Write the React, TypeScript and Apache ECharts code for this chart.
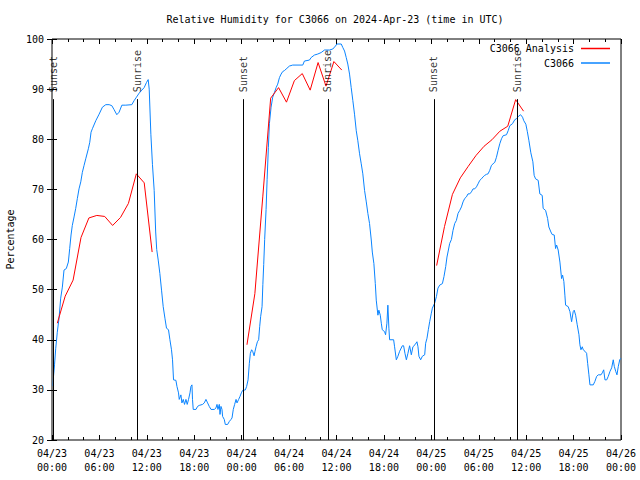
import React, { useEffect, useRef } from "react";
import * as echarts from "echarts";

// Station observations: [hours since 2024-04-23 00:00 UTC, RH %]
const stationC3066: [number, number][] = [
  [0.13,30.8],[0.19,32.7],[0.32,35.0],[0.47,38.2],[0.67,41.5],[0.89,44.3],[1.10,48.3],[1.31,50.5],[1.52,53.9],[1.81,54.2],
  [2.07,55.5],[2.24,58.2],[2.41,60.9],[2.57,62.8],[2.79,64.5],[3.00,66.2],[3.21,68.2],[3.42,70.1],[3.64,71.5],[3.84,73.4],
  [4.06,74.8],[4.27,76.1],[4.60,78.1],[4.78,79.4],[4.94,81.4],[5.11,82.1],[5.54,83.7],[5.96,85.0],[6.38,86.4],[6.81,86.9],
  [7.23,86.9],[7.57,86.7],[7.86,85.9],[8.20,84.9],[8.49,85.4],[8.84,86.8],[9.34,86.8],[10.10,86.9],[10.39,87.7],[10.69,88.4],
  [11.03,89.2],[11.37,89.8],[11.66,90.3],[11.95,91.3],[12.17,91.9],[12.30,90.0],[12.51,81.0],[12.71,75.0],[12.93,69.8],[13.12,61.5],
  [13.25,58.0],[13.44,55.9],[13.65,53.2],[13.86,49.9],[14.07,46.6],[14.29,44.3],[14.49,42.3],[14.74,42.0],[14.92,40.0],[15.12,38.0],
  [15.25,36.0],[15.38,32.0],[15.68,31.9],[15.81,30.7],[16.01,29.4],[16.10,28.1],[16.31,29.0],[16.44,27.4],[16.61,28.1],[16.77,27.1],
  [16.95,28.1],[17.11,27.1],[17.28,28.1],[17.46,29.4],[17.58,30.7],[17.71,31.0],[17.78,28.1],[17.87,26.1],[18.22,26.1],[18.42,26.7],
  [18.63,26.9],[19.05,27.1],[19.27,27.4],[19.48,28.1],[19.69,27.4],[19.90,26.7],[20.12,26.1],[20.54,26.1],[20.75,26.4],[20.88,27.1],
  [21.00,26.1],[21.17,27.1],[21.26,25.1],[21.38,26.7],[21.51,26.1],[21.59,24.7],[21.80,24.1],[21.93,23.1],[22.22,23.1],[22.44,23.7],
  [22.65,24.1],[22.78,24.4],[22.94,26.1],[23.11,27.1],[23.29,28.1],[23.41,27.4],[23.62,28.1],[23.79,28.7],[23.96,29.4],[24.12,29.9],
  [24.47,30.0],[24.63,30.7],[24.81,32.0],[24.97,35.3],[25.10,37.3],[25.26,38.0],[25.39,37.7],[25.57,36.8],[25.69,37.7],[25.82,38.6],
  [25.99,39.6],[26.15,40.0],[26.28,42.6],[26.40,44.6],[26.58,46.6],[26.68,51.0],[26.79,55.0],[26.91,60.0],[27.09,66.0],[27.22,72.0],
  [27.38,78.4],[27.51,83.1],[27.72,86.4],[27.93,88.4],[28.14,89.3],[28.36,90.3],[28.56,91.0],[28.78,92.3],[28.99,93.0],[29.19,93.5],
  [29.41,93.7],[29.62,94.0],[30.04,94.6],[30.46,94.8],[31.73,94.8],[31.94,95.6],[32.58,95.8],[32.79,96.3],[33.21,96.8],[33.63,97.0],
  [34.06,97.3],[34.48,97.8],[35.11,97.8],[35.53,98.0],[35.87,98.6],[36.04,99.0],[36.60,99.0],[36.80,98.3],[37.02,97.6],[37.23,96.3],
  [37.43,95.0],[37.65,93.0],[37.86,90.3],[38.07,87.7],[38.28,85.0],[38.50,81.7],[38.70,79.7],[38.92,77.1],[39.13,75.1],[39.33,73.1],
  [39.55,69.8],[39.77,67.5],[39.97,65.2],[40.18,63.2],[40.40,59.9],[40.53,57.5],[40.73,55.2],[40.91,51.2],[41.03,47.9],[41.24,44.9],
  [41.36,45.9],[41.54,44.9],[41.67,43.3],[41.79,42.0],[42.09,41.6],[42.21,41.0],[42.38,43.3],[42.50,46.9],[42.63,42.3],[42.72,40.0],
  [43.23,40.0],[43.35,38.6],[43.57,36.0],[43.77,36.7],[43.99,37.7],[44.33,38.8],[44.49,38.8],[44.66,37.3],[44.84,36.0],[45.04,37.3],
  [45.25,38.8],[45.47,37.0],[45.67,38.6],[45.93,39.0],[46.18,39.6],[46.31,38.6],[46.43,36.7],[46.65,36.0],[46.86,36.7],[47.16,37.0],
  [47.28,39.3],[47.45,40.3],[47.62,42.0],[47.79,43.6],[48.00,45.3],[48.13,46.3],[48.42,47.3],[48.64,48.6],[48.84,50.3],[49.06,50.9],
  [49.40,51.2],[49.60,52.6],[49.82,54.6],[49.98,56.5],[50.16,57.9],[50.32,59.2],[50.54,60.0],[50.74,61.8],[50.96,63.2],[51.17,63.8],
  [51.38,65.2],[51.59,65.8],[51.81,66.5],[52.01,67.5],[52.23,68.2],[52.44,68.5],[52.64,69.1],[52.86,69.1],[53.07,69.5],[53.28,70.1],
  [53.49,70.1],[53.71,70.5],[53.91,71.1],[54.13,71.8],[54.34,72.1],[54.55,72.5],[54.76,72.8],[54.98,73.0],[55.18,73.1],[55.39,73.8],
  [55.61,74.8],[55.81,75.1],[56.03,75.4],[56.24,76.4],[56.45,77.8],[56.66,79.1],[56.88,80.1],[57.08,80.7],[57.51,80.9],[57.72,81.7],
  [57.93,82.7],[58.27,83.1],[58.56,83.9],[58.78,84.1],[58.98,84.5],[59.29,84.9],[59.54,84.4],[59.70,83.7],[59.96,83.0],[60.15,81.5],
  [60.34,79.8],[60.59,77.3],[60.85,75.5],[61.01,72.8],[61.19,72.1],[61.52,71.8],[61.73,69.1],[62.03,68.8],[62.15,66.2],[62.46,65.8],
  [62.71,64.2],[62.87,62.5],[63.13,61.5],[63.29,61.0],[63.55,60.9],[63.72,58.2],[63.85,58.9],[64.05,57.9],[64.27,55.5],[64.48,52.2],
  [64.61,52.9],[64.77,51.6],[64.90,48.9],[64.99,46.9],[65.32,46.6],[65.54,45.6],[65.75,43.6],[65.95,45.6],[66.08,45.9],[66.26,44.9],
  [66.46,43.0],[66.68,41.0],[66.80,39.0],[66.93,38.0],[67.10,38.6],[67.22,38.0],[67.44,37.7],[67.65,37.3],[67.78,35.3],[67.94,33.0],
  [68.07,31.0],[68.49,31.0],[68.70,31.7],[68.92,32.7],[69.12,33.0],[69.47,33.0],[69.63,33.4],[69.81,34.0],[69.97,32.0],[70.19,32.0],
  [70.39,32.7],[70.61,33.7],[70.82,34.4],[71.02,36.0],[71.15,34.7],[71.33,33.7],[71.49,33.0],[71.66,34.7],[71.84,36.0],[71.97,36.3]
];

// Analysis (hourly), three separate runs
const analysisRun1: [number, number][] = [
  [0.67,43.3],[1.67,48.7],[2.67,51.9],[3.67,60.4],[4.67,64.3],[5.67,64.8],[6.67,64.6],
  [7.67,62.8],[8.67,64.4],[9.67,67.2],[10.67,73.1],[11.67,71.3],[12.67,57.5]
];
const analysisRun2: [number, number][] = [
  [24.67,39.0],[25.67,49.2],[26.67,68.5],[27.67,88.2],[28.67,90.3],[29.67,87.4],[30.67,91.7],
  [31.67,93.1],[32.67,89.8],[33.67,95.3],[34.67,90.6],[35.67,95.5],[36.67,93.8]
];
const analysisRun3: [number, number][] = [
  [48.67,54.8],[49.67,62.6],[50.67,69.0],[51.67,72.3],[52.67,74.6],[53.67,76.8],
  [54.67,78.6],[55.67,79.9],[56.67,81.6],[57.67,82.6],[58.67,87.9],[59.67,85.6]
];

const sunsetHours = [0.13, 24.25, 48.33];
const sunriseHours = [10.81, 34.9, 58.86];
const sunLineTop = 88;
const sunLabelBase = 89.4;

const titleText = "Relative Humidity for C3066 on 2024-Apr-23 (time in UTC)";
const dayLabels = ["04/23", "04/24", "04/25", "04/26"];

const FONT = "DejaVu Sans Mono";
const FS = 10;

export default function App() {
  const ref = useRef<HTMLDivElement>(null);
  useEffect(() => {
    if (!ref.current) return;
    const chart = echarts.init(ref.current, undefined, { renderer: "svg" });

    const analysisData: any[] = [
      ...analysisRun1, ["-", "-"],
      ...analysisRun2, ["-", "-"],
      ...analysisRun3,
    ];

    const sunEvents: [number, number, string][] = [
      ...sunsetHours.map((h) => [h, sunLabelBase, "Sunset"] as [number, number, string]),
      ...sunriseHours.map((h) => [h, sunLabelBase, "Sunrise"] as [number, number, string]),
    ];
    const sunLines = [...sunsetHours, ...sunriseHours].map((h) => [
      { coord: [h, 20] },
      { coord: [h, sunLineTop] },
    ]);

    const xFmt = (v: number) => {
      const d = Math.floor(v / 24);
      const hh = v - d * 24;
      return `${dayLabels[d]}\n${String(hh).padStart(2, "0")}:00`;
    };

    const xBase = {
      type: "value",
      min: 0,
      max: 72,
      interval: 6,
      axisLine: { show: false },
      axisTick: { show: true, inside: true, length: 5, lineStyle: { color: "#000" } },
      minorTick: { show: true, splitNumber: 3, length: 3, lineStyle: { color: "#000" } },
      splitLine: { show: false },
    };
    const yBase = {
      type: "value",
      min: 20,
      max: 100,
      interval: 10,
      axisLine: { show: false },
      axisTick: { show: true, inside: true, length: 5, lineStyle: { color: "#000" } },
      splitLine: { show: false },
    };

    chart.setOption({
      animation: false,
      backgroundColor: "#fff",
      textStyle: { fontFamily: FONT },
      grid: {
        left: 52,
        right: 19,
        top: 39,
        bottom: 40,
        outerBoundsMode: "none",
        containLabel: false,
        show: true,
        borderColor: "#000",
        borderWidth: 1,
        backgroundColor: "transparent",
      },
      graphic: [
        {
          type: "text",
          x: 335,
          y: 19,
          style: {
            text: titleText,
            font: `${FS}px "${FONT}"`,
            fill: "#000",
            align: "center",
            verticalAlign: "middle",
            textAlign: "center",
            textVerticalAlign: "middle",
          },
        },
      ],
      legend: {
        data: ["C3066 Analysis", "C3066"],
        orient: "vertical",
        align: "right",
        right: 30,
        top: 42,
        padding: 0,
        itemWidth: 29,
        itemHeight: 1.5,
        itemGap: 1.5,
        icon: "rect",
        textStyle: {
          fontFamily: FONT,
          fontSize: FS,
          color: "#000",
          lineHeight: 13,
          padding: [0, 2, 0, 0],
        },
      },
      xAxis: [
        {
          ...xBase,
          position: "bottom",
          axisLabel: {
            show: true,
            formatter: xFmt,
            fontFamily: FONT,
            fontSize: FS,
            color: "#000",
            lineHeight: 14,
            margin: 6,
            showMinLabel: true,
            showMaxLabel: true,
          },
        },
        { ...xBase, position: "top", axisLabel: { show: false } },
      ],
      yAxis: [
        {
          ...yBase,
          position: "left",
          name: "Percentage",
          nameLocation: "middle",
          nameRotate: 90,
          nameGap: 36,
          nameTextStyle: { fontFamily: FONT, fontSize: FS, color: "#000" },
          axisLabel: { fontFamily: FONT, fontSize: FS, color: "#000", margin: 8 },
        },
        { ...yBase, position: "right", axisLabel: { show: false } },
      ],
      series: [
        {
          name: "C3066 Analysis",
          type: "line",
          data: analysisData,
          showSymbol: false,
          symbol: "none",
          connectNulls: false,
          lineStyle: { color: "#ff0000", width: 1 },
          itemStyle: { color: "#ff0000" },
          z: 3,
          markLine: {
            silent: true,
            symbol: ["none", "none"],
            label: { show: false },
            lineStyle: { color: "#000", width: 1, type: "solid" },
            data: sunLines,
          },
        },
        {
          name: "C3066",
          type: "line",
          data: stationC3066,
          showSymbol: false,
          symbol: "none",
          lineStyle: { color: "#0a84ff", width: 1 },
          itemStyle: { color: "#0a84ff" },
          z: 2,
        },
        {
          name: "sun",
          type: "scatter",
          data: sunEvents,
          symbolSize: 1,
          silent: true,
          itemStyle: { color: "rgba(0,0,0,0)" },
          label: {
            show: true,
            formatter: (p: any) => p.value[2],
            position: "inside",
            rotate: 90,
            align: "left",
            verticalAlign: "middle",
            fontFamily: FONT,
            fontSize: FS,
            color: "#000",
          },
          z: 4,
        },
      ],
    });
    return () => chart.dispose();
  }, []);
  return (
    <div
      ref={ref}
      style={{ position: "fixed", left: 0, top: 0, width: 640, height: 480 }}
    />
  );
}
